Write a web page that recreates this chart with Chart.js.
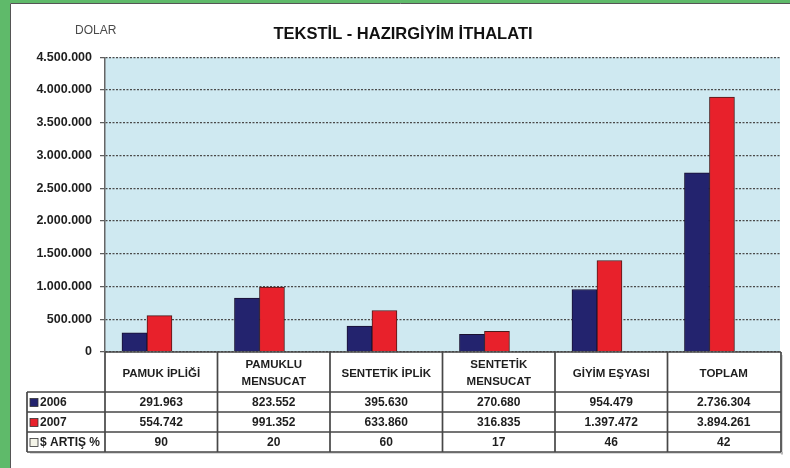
<!DOCTYPE html>
<html>
<head>
<meta charset="utf-8">
<script src="https://cdn.jsdelivr.net/npm/chart.js@4"></script>
<style>
    html, body { margin: 0; padding: 0; background: #ffffff; }
    #wrap { position: relative; width: 790px; height: 468px; }
</style>
</head>
<body>
<div id="wrap"><canvas id="chart"></canvas></div>
<script>
// data
const categories = ["PAMUK İPLİĞİ", ["PAMUKLU", "MENSUCAT"], "SENTETİK İPLİK", ["SENTETİK", "MENSUCAT"], "GİYİM EŞYASI", "TOPLAM"];
const years = ["2006", "2007"];
const values2006 = [291963, 823552, 395630, 270680, 954479, 2736304];
const values2007 = [554742, 991352, 633860, 316835, 1397472, 3894261];
const artis = [90, 20, 60, 17, 46, 42];
const artisLabel = "$ ARTIŞ %";
const yTicks = [0, 500000, 1000000, 1500000, 2000000, 2500000, 3000000, 3500000, 4000000, 4500000];

const FONT = "'Liberation Sans', Arial, sans-serif";
const navy = "#23236e";
const red = "#e8212b";
const lineCol = "#474747";

function dots(n) {
    return String(n).replace(/\B(?=(\d{3})+(?!\d))/g, ".");
}

// green frame, light blue plot area, unit label
const backdrop = {
    id: "backdrop",
    beforeDraw(chart) {
        const ctx = chart.ctx;
        const a = chart.chartArea;
        ctx.save();
        ctx.fillStyle = "#5fba6a";
        ctx.fillRect(0, 0, chart.width, chart.height);
        ctx.fillStyle = "#ffffff";
        ctx.fillRect(10, 3, chart.width - 10, chart.height - 3);
        ctx.strokeStyle = "#555";
        ctx.lineWidth = 1;
        ctx.beginPath();
        ctx.moveTo(10.5, chart.height);
        ctx.lineTo(10.5, 3.5);
        ctx.lineTo(chart.width, 3.5);
        ctx.stroke();
        ctx.fillStyle = "#cfe9f1";
        ctx.fillRect(a.left, a.top, a.right - a.left, a.bottom - a.top);
        ctx.fillStyle = "#4a4a4a";
        ctx.font = "12px " + FONT;
        ctx.textBaseline = "middle";
        ctx.fillText("DOLAR", 75, 31);
        ctx.restore();
    }
};

// data table under the plot
const dataTable = {
    id: "dataTable",
    afterDraw(chart) {
        const ctx = chart.ctx;
        const x = chart.scales.x;
        const top = chart.chartArea.bottom;
        const colW = (x.right - x.left) / categories.length;
        const tableLeft = 27;
        const tableRight = x.right + 1;
        const headH = 40, rowH = 20;
        const rows = [values2006.map(dots), values2007.map(dots), artis.map(String)];
        const rowNames = [years[0], years[1], artisLabel];
        const swatch = [navy, red, "#f4f4e8"];
        const bottom = top + headH + rowH * rows.length;

        ctx.save();
        // soft shadow
        ctx.fillStyle = "rgba(0,0,0,0.15)";
        ctx.fillRect(tableRight, top + 3, 2, bottom - top);
        ctx.fillRect(tableLeft + 3, bottom, tableRight - tableLeft - 1, 2);

        ctx.strokeStyle = lineCol;
        ctx.lineWidth = 1.7;
        ctx.beginPath();
        ctx.moveTo(x.left, top);
        ctx.lineTo(tableRight, top);
        for (let r = 0; r <= rows.length; r++) {
            const y = top + headH + r * rowH;
            ctx.moveTo(tableLeft, y);
            ctx.lineTo(tableRight, y);
        }
        ctx.moveTo(tableLeft, top + headH);
        ctx.lineTo(tableLeft, bottom);
        for (let i = 0; i <= categories.length; i++) {
            const cx = i === categories.length ? tableRight : x.left + i * colW;
            ctx.moveTo(cx, top);
            ctx.lineTo(cx, bottom);
        }
        ctx.stroke();

        ctx.font = "bold 12px " + FONT;
        ctx.fillStyle = "#1e1e1e";
        ctx.textBaseline = "middle";
        rows.forEach((row, r) => {
            const y = top + headH + r * rowH + rowH / 2 + 1;
            ctx.textAlign = "center";
            row.forEach((txt, i) => {
                ctx.fillText(txt, x.getPixelForValue(i), y);
            });
            ctx.fillStyle = swatch[r];
            ctx.fillRect(30, y - 4.5, 8, 8);
            ctx.strokeStyle = "#333";
            ctx.lineWidth = 0.8;
            ctx.strokeRect(30, y - 4.5, 8, 8);
            ctx.fillStyle = "#1e1e1e";
            ctx.textAlign = "left";
            ctx.fillText(rowNames[r], 40, y);
        });
        ctx.restore();
    }
};

new Chart(document.getElementById("chart"), {
    type: "bar",
    data: {
        labels: categories,
        datasets: [{
            label: years[0],
            data: values2006.map((v, i) => ({ x: i, y: v })),
            backgroundColor: navy,
            borderColor: "#1a1030",
            borderWidth: 1,
            xAxisID: "xb"
        }, {
            label: years[1],
            data: values2007.map((v, i) => ({ x: i, y: v })),
            backgroundColor: red,
            borderColor: "#4a1a1a",
            borderWidth: 1,
            xAxisID: "xb"
        }]
    },
    options: {
        responsive: true,
        maintainAspectRatio: false,
        animation: false,
        barThickness: 25,
        layout: { padding: { left: 26, right: 10, top: 0, bottom: 16 } },
        plugins: {
            legend: { display: false },
            tooltip: { enabled: false },
            title: {
                display: true,
                text: "TEKSTİL - HAZIRGİYİM İTHALATI",
                color: "#111",
                font: { family: FONT, size: 16.5, weight: "bold", lineHeight: 1.2 },
                padding: { top: 24.5, bottom: 13 }
            }
        },
        scales: {
            x: {
                type: "category",
                offset: true,
                min: 0,
                max: categories.length - 1,
                grid: { display: false, drawTicks: false },
                border: { display: false },
                ticks: {
                    autoSkip: false,
                    maxRotation: 0,
                    crossAlign: "center",
                    padding: 13,
                    color: "#1e1e1e",
                    font: { family: FONT, size: 11.5, weight: "bold", lineHeight: 1.5 }
                },
                afterFit(scale) { scale.height = 100; }
            },
            xb: {
                type: "linear",
                display: false,
                offset: false,
                min: -0.373,
                max: 5.627
            },
            y: {
                min: 0,
                max: 4500000,
                afterBuildTicks(scale) { scale.ticks = yTicks.map(v => ({ value: v })); },
                afterFit(scale) { scale.width = 79; },
                grid: {
                    color: "#4a4a4a",
                    lineWidth: 1.3,
                    tickLength: 5,
                    tickColor: "#555",
                    tickWidth: 1.2
                },
                border: { display: true, color: "#666", width: 1.5, dash: [2, 1.5] },
                ticks: {
                    padding: 8,
                    color: "#1e1e1e",
                    font: { family: FONT, size: 12.5, weight: "bold" },
                    callback: v => dots(v)
                }
            }
        }
    },
    plugins: [backdrop, dataTable]
});
</script>
</body>
</html>
